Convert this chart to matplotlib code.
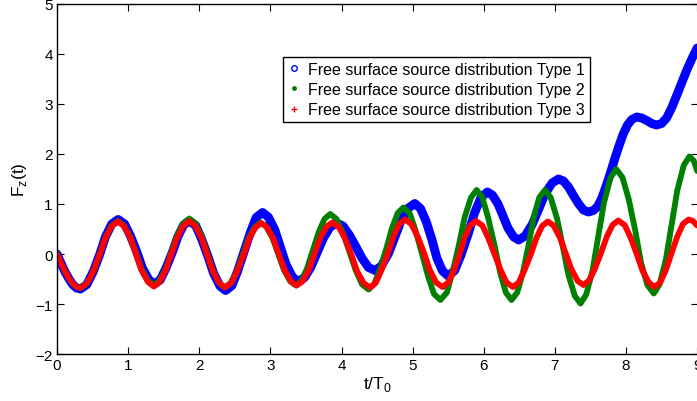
import matplotlib
matplotlib.use("Agg")
import matplotlib.pyplot as plt
from matplotlib.lines import Line2D

plt.rcParams['font.family'] = ['Liberation Sans', 'DejaVu Sans']

# Type 1 (blue)
t1 = [0.00, 0.055, 0.11, 0.165, 0.22, 0.275, 0.33,
      0.42, 0.51, 0.60, 0.68, 0.77, 0.86,
      0.95, 1.03, 1.12, 1.20, 1.29, 1.37,
      1.45, 1.53, 1.62, 1.70, 1.78, 1.86,
      1.95, 2.03, 2.12, 2.20, 2.29, 2.37,
      2.46, 2.54, 2.63, 2.72, 2.80, 2.89,
      2.97, 3.06, 3.14, 3.22, 3.31, 3.39,
      3.48, 3.57, 3.66, 3.75, 3.84, 3.93,
      4.02, 4.11, 4.20, 4.29, 4.38, 4.47,
      4.56, 4.66, 4.75, 4.84, 4.94, 5.03,
      5.11, 5.19, 5.27, 5.34, 5.42, 5.50,
      5.59, 5.68, 5.78, 5.87, 5.96, 6.05,
      6.12, 6.20, 6.27, 6.34, 6.42, 6.49,
      6.58, 6.68, 6.77, 6.86, 6.96, 7.05,
      7.12, 7.19, 7.26, 7.33, 7.40, 7.47,
      7.54, 7.60, 7.66, 7.72, 7.78, 7.84, 7.90, 7.96, 8.02, 8.08, 8.15,
      8.22, 8.29, 8.36, 8.43,
      8.50, 8.57, 8.64, 8.72, 8.79, 8.86, 8.93, 9.00]
f1 = [0.00, -0.18, -0.35, -0.49, -0.61, -0.68, -0.70,
      -0.61, -0.35, -0.01, 0.34, 0.60, 0.69,
      0.60, 0.37, 0.05, -0.28, -0.51, -0.60,
      -0.52, -0.29, 0.03, 0.35, 0.58, 0.66,
      0.57, 0.31, -0.04, -0.38, -0.64, -0.73,
      -0.63, -0.34, 0.05, 0.44, 0.73, 0.83,
      0.74, 0.49, 0.14, -0.21, -0.46, -0.55,
      -0.47, -0.26, 0.04, 0.33, 0.54, 0.62,
      0.56, 0.38, 0.15, -0.09, -0.27, -0.33,
      -0.24, 0.01, 0.34, 0.68, 0.92, 1.01,
      0.91, 0.65, 0.29, -0.08, -0.34, -0.44,
      -0.33, -0.02, 0.40, 0.82, 1.13, 1.24,
      1.18, 1.00, 0.76, 0.52, 0.34, 0.28,
      0.36, 0.59, 0.89, 1.20, 1.42, 1.50,
      1.46, 1.34, 1.17, 1.01, 0.88, 0.84,
      0.87, 0.95, 1.12, 1.36, 1.62, 1.90, 2.16, 2.40, 2.58, 2.69, 2.74,
      2.72, 2.67, 2.61, 2.58,
      2.61, 2.72, 2.92, 3.20, 3.45, 3.70, 3.92, 4.12]

# Type 2 (green)
t2 = [0.00, 0.055, 0.11, 0.165, 0.22, 0.275, 0.33,
      0.42, 0.51, 0.60, 0.68, 0.77, 0.86,
      0.94, 1.03, 1.11, 1.19, 1.28, 1.36,
      1.44, 1.53, 1.61, 1.69, 1.78, 1.86,
      1.94, 2.03, 2.11, 2.19, 2.28, 2.36,
      2.44, 2.53, 2.61, 2.69, 2.78, 2.86,
      2.94, 3.03, 3.11, 3.19, 3.28, 3.36,
      3.44, 3.52, 3.60, 3.68, 3.76, 3.84,
      3.93, 4.02, 4.11, 4.20, 4.29, 4.38,
      4.46, 4.54, 4.63, 4.71, 4.79, 4.87,
      4.96, 5.04, 5.13, 5.22, 5.30, 5.39,
      5.48, 5.56, 5.65, 5.73, 5.82, 5.90,
      5.98, 6.06, 6.15, 6.23, 6.31, 6.39,
      6.47, 6.55, 6.63, 6.70, 6.78, 6.86,
      6.94, 7.03, 7.11, 7.19, 7.28, 7.36,
      7.44, 7.53, 7.61, 7.69, 7.78, 7.86,
      7.95, 8.04, 8.13, 8.21, 8.30, 8.39,
      8.47, 8.56, 8.64, 8.72, 8.81, 8.89,
      8.95, 9.00]
f2 = [0.00, -0.18, -0.34, -0.48, -0.59, -0.66, -0.68,
      -0.59, -0.35, -0.01, 0.33, 0.57, 0.66,
      0.57, 0.34, 0.02, -0.30, -0.53, -0.62,
      -0.53, -0.29, 0.05, 0.38, 0.62, 0.71,
      0.62, 0.37, 0.02, -0.33, -0.58, -0.67,
      -0.58, -0.35, -0.02, 0.31, 0.54, 0.63,
      0.55, 0.32, 0.00, -0.32, -0.55, -0.63,
      -0.53, -0.27, 0.09, 0.44, 0.70, 0.80,
      0.70, 0.42, 0.05, -0.33, -0.61, -0.71,
      -0.60, -0.30, 0.11, 0.52, 0.82, 0.93,
      0.81, 0.47, 0.01, -0.46, -0.80, -0.92,
      -0.77, -0.37, 0.18, 0.73, 1.13, 1.28,
      1.13, 0.73, 0.18, -0.37, -0.77, -0.92,
      -0.77, -0.37, 0.18, 0.73, 1.13, 1.28,
      1.13, 0.71, 0.15, -0.42, -0.84, -0.99,
      -0.81, -0.32, 0.36, 1.03, 1.52, 1.70,
      1.53, 1.08, 0.46, -0.17, -0.62, -0.79,
      -0.61, -0.11, 0.58, 1.27, 1.77, 1.95,
      1.87, 1.66]

# Type 3 (red)
t3 = [0.00, 0.055, 0.11, 0.165, 0.22, 0.275, 0.33,
      0.42, 0.51, 0.60, 0.68, 0.77, 0.86,
      0.94, 1.03, 1.11, 1.19, 1.28, 1.36,
      1.44, 1.53, 1.61, 1.69, 1.78, 1.86,
      1.94, 2.03, 2.11, 2.19, 2.28, 2.36,
      2.45, 2.53, 2.62, 2.70, 2.79, 2.87,
      2.95, 3.04, 3.12, 3.20, 3.29, 3.37,
      3.45, 3.54, 3.62, 3.70, 3.79, 3.87,
      3.96, 4.05, 4.14, 4.22, 4.31, 4.40,
      4.48, 4.56, 4.65, 4.73, 4.81, 4.89,
      4.98, 5.07, 5.16, 5.24, 5.33, 5.42,
      5.50, 5.58, 5.66, 5.73, 5.81, 5.89,
      5.98, 6.06, 6.15, 6.24, 6.32, 6.41,
      6.49, 6.57, 6.66, 6.74, 6.82, 6.90,
      6.98, 7.07, 7.15, 7.23, 7.32, 7.40,
      7.48, 7.56, 7.65, 7.73, 7.81, 7.89,
      7.98, 8.06, 8.15, 8.23, 8.32, 8.40,
      8.48, 8.56, 8.64, 8.72, 8.80, 8.88,
      8.94, 9.00]
f3 = [0.00, -0.18, -0.34, -0.48, -0.59, -0.66, -0.68,
      -0.59, -0.35, -0.01, 0.32, 0.56, 0.65,
      0.56, 0.33, 0.00, -0.33, -0.56, -0.65,
      -0.56, -0.32, 0.01, 0.33, 0.57, 0.66,
      0.57, 0.33, -0.01, -0.34, -0.58, -0.67,
      -0.58, -0.35, -0.03, 0.30, 0.53, 0.62,
      0.54, 0.31, -0.01, -0.32, -0.55, -0.63,
      -0.55, -0.32, 0.00, 0.32, 0.55, 0.63,
      0.54, 0.31, -0.02, -0.35, -0.58, -0.67,
      -0.58, -0.33, 0.01, 0.35, 0.60, 0.69,
      0.60, 0.35, 0.02, -0.32, -0.57, -0.66,
      -0.57, -0.33, 0.00, 0.33, 0.57, 0.66,
      0.57, 0.33, 0.00, -0.33, -0.57, -0.66,
      -0.57, -0.33, -0.01, 0.32, 0.56, 0.65,
      0.57, 0.33, 0.02, -0.30, -0.54, -0.62,
      -0.53, -0.30, 0.03, 0.35, 0.58, 0.67,
      0.58, 0.34, 0.00, -0.33, -0.57, -0.66,
      -0.57, -0.32, 0.02, 0.35, 0.60, 0.69,
      0.66, 0.57]

labels = ["Free surface source distribution Type 1",
          "Free surface source distribution Type 2",
          "Free surface source distribution Type 3"]

fig = plt.figure(figsize=(6.97, 4.02), dpi=100)
ax = fig.add_axes([0.0818, 0.1169, 0.9195, 0.8707])

ax.plot(t1, f1, color=(0, 0, 1), lw=6.4, solid_joinstyle='round', solid_capstyle='round')
ax.plot(t2, f2, color=(0, 0.5, 0), lw=4.2, solid_joinstyle='round', solid_capstyle='round')
ax.plot(t3, f3, color=(1, 0, 0), lw=4.2, solid_joinstyle='round', solid_capstyle='round')

ax.set_xlim(0, 9.01)
ax.set_ylim(-2, 5)
ax.set_xticks(range(0, 10))
ax.set_yticks(range(-2, 6))
ax.tick_params(direction='in', length=5, width=0.8, top=True, right=True,
               labelsize=11, pad=3)
for s in ax.spines.values():
    s.set_linewidth(1.0)

ax.set_xlabel(r't/T$_\mathregular{0}$', fontsize=12.5, labelpad=1)
ax.set_ylabel(r'F$_\mathregular{z}$(t)', fontsize=12.5, labelpad=5)

handles = [
    Line2D([], [], ls='none', marker='o', ms=4, mfc='none', mec=(0, 0, 1), mew=1),
    Line2D([], [], ls='none', marker='.', ms=5, color=(0, 0.5, 0)),
    Line2D([], [], ls='none', marker='+', ms=4, color=(1, 0, 0), mew=1),
]
leg = ax.legend(handles, labels, loc='upper left', bbox_to_anchor=(0.352, 0.849),
                borderaxespad=0, fontsize=11.5, fancybox=False, framealpha=1,
                edgecolor='black', handlelength=0.8, handletextpad=0.5,
                borderpad=0.3, labelspacing=0.33)
leg.get_frame().set_linewidth(1.0)

fig.savefig("out.png", dpi=100)
